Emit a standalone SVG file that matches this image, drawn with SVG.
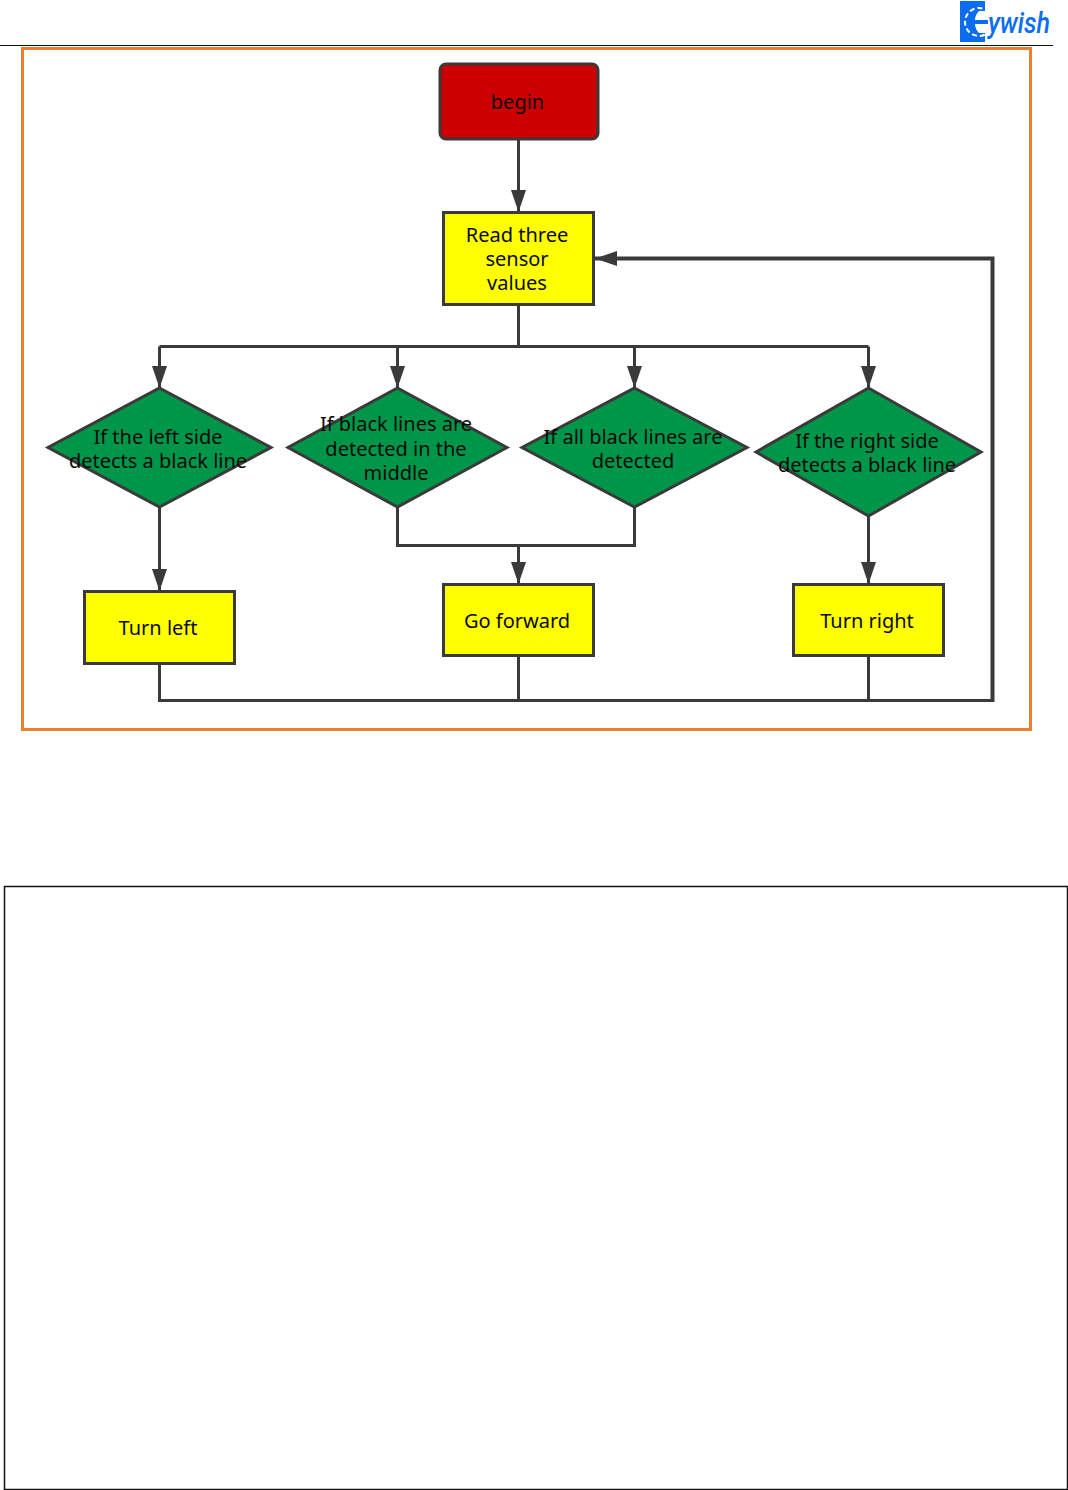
<svg xmlns="http://www.w3.org/2000/svg" width="1068" height="1490" viewBox="0 0 1068 1490">
<defs>
<marker id="ah" markerUnits="userSpaceOnUse" markerWidth="24" markerHeight="18" refX="22" refY="8" orient="auto" viewBox="0 0 24 16"><path d="M0 0.500L22 8L0 15.500Z" fill="#3a3a3a"/></marker>
</defs>
<style>
.n{stroke:#3a3a3a;stroke-width:3}
.y{fill:#ffff00}.g{fill:#00964a}
text{font-family:"Noto Sans","Open Sans","Liberation Sans",sans-serif;font-size:20px;fill:#0a0a0a;text-anchor:middle}
.c{fill:none;stroke:#3a3a3a;stroke-width:3}
.t{stroke-width:4}
</style>
<rect width="1068" height="1490" fill="#ffffff"/>
<g id="header">
<line x1="0" y1="45.500" x2="1053" y2="45.500" stroke="#111" stroke-width="1"/>
<rect x="960" y="1" width="25" height="41" fill="#0b6cf0"/>
<circle cx="979" cy="22" r="14" fill="none" stroke="#fff" stroke-width="2" stroke-dasharray="5 3"/>
<path d="M985 11H979Q975 15 975 20H985ZM985 24H975Q975 29 979 33H985Z" fill="#fff"/>
<rect x="975" y="20" width="13" height="4" fill="#0b6cf0"/>
<text x="1019" y="33" style="font-family:Roboto,'Liberation Sans',sans-serif;font-style:italic;font-weight:500;font-size:29px;fill:#0b6cf0" textLength="62" lengthAdjust="spacingAndGlyphs">ywish</text>
</g>
<rect id="frame-top" x="22.500" y="48.500" width="1008" height="681" fill="none" stroke="#ed7d31" stroke-width="3"/>
<rect id="frame-bottom" x="4.500" y="886.500" width="1063" height="603" fill="none" stroke="#111" stroke-width="1.500"/>
<g id="connectors">
<path class="c" d="M518.500 139V212" marker-end="url(#ah)"/>
<path class="c" d="M518.500 305V346.500"/>
<path class="c" d="M159.500 346.500H868.500"/>
<path class="c" d="M159.500 346.500V388" marker-end="url(#ah)"/>
<path class="c" d="M397.500 346.500V388" marker-end="url(#ah)"/>
<path class="c" d="M634.500 346.500V388" marker-end="url(#ah)"/>
<path class="c" d="M868.500 346.500V388" marker-end="url(#ah)"/>
<path class="c" d="M159.500 507V591" marker-end="url(#ah)"/>
<path class="c" d="M397.500 507V545.500H634.500V507"/>
<path class="c" d="M518.500 545.500V584" marker-end="url(#ah)"/>
<path class="c" d="M868.500 516V584" marker-end="url(#ah)"/>
<path class="c" d="M159.500 663V700.500H992.500"/>
<path class="c" d="M518.500 656V700.500"/>
<path class="c" d="M868.500 656V700.500"/>
<path class="c t" d="M992.500 702V258.500H595" marker-end="url(#ah)"/>
</g>
<g id="begin"><rect class="n" x="440" y="64" width="158" height="75" rx="6" fill="#cc0000"/><text x="517.500" y="109">begin</text></g>
<g id="read"><rect class="n y" x="443.500" y="212.500" width="150" height="92"/><text x="517" y="242">Read three</text><text x="517" y="266">sensor</text><text x="517" y="290">values</text></g>
<g id="d-left"><path class="n g" d="M159.500 388L271 447.500L159.500 507L48 447.500Z"/><text x="158" y="444">If the left side</text><text x="158" y="468">detects a black line</text></g>
<g id="d-middle"><path class="n g" d="M397.500 388L507 447.500L397.500 507L288 447.500Z"/><text x="396" y="431">If black lines are</text><text x="396" y="456">detected in the</text><text x="396" y="480">middle</text></g>
<g id="d-all"><path class="n g" d="M634.500 388L747 447.500L634.500 507L522 447.500Z"/><text x="633" y="444">If all black lines are</text><text x="633" y="468">detected</text></g>
<g id="d-right"><path class="n g" d="M868.500 388L981 452L868.500 516L756 452Z"/><text x="867" y="448">If the right side</text><text x="867" y="472">detects a black line</text></g>
<g id="left"><rect class="n y" x="84.500" y="591.500" width="150" height="72"/><text x="158" y="635">Turn left</text></g>
<g id="forward"><rect class="n y" x="443.500" y="584.500" width="150" height="71"/><text x="517" y="628">Go forward</text></g>
<g id="right"><rect class="n y" x="793.500" y="584.500" width="150" height="71"/><text x="867" y="628">Turn right</text></g>
</svg>
